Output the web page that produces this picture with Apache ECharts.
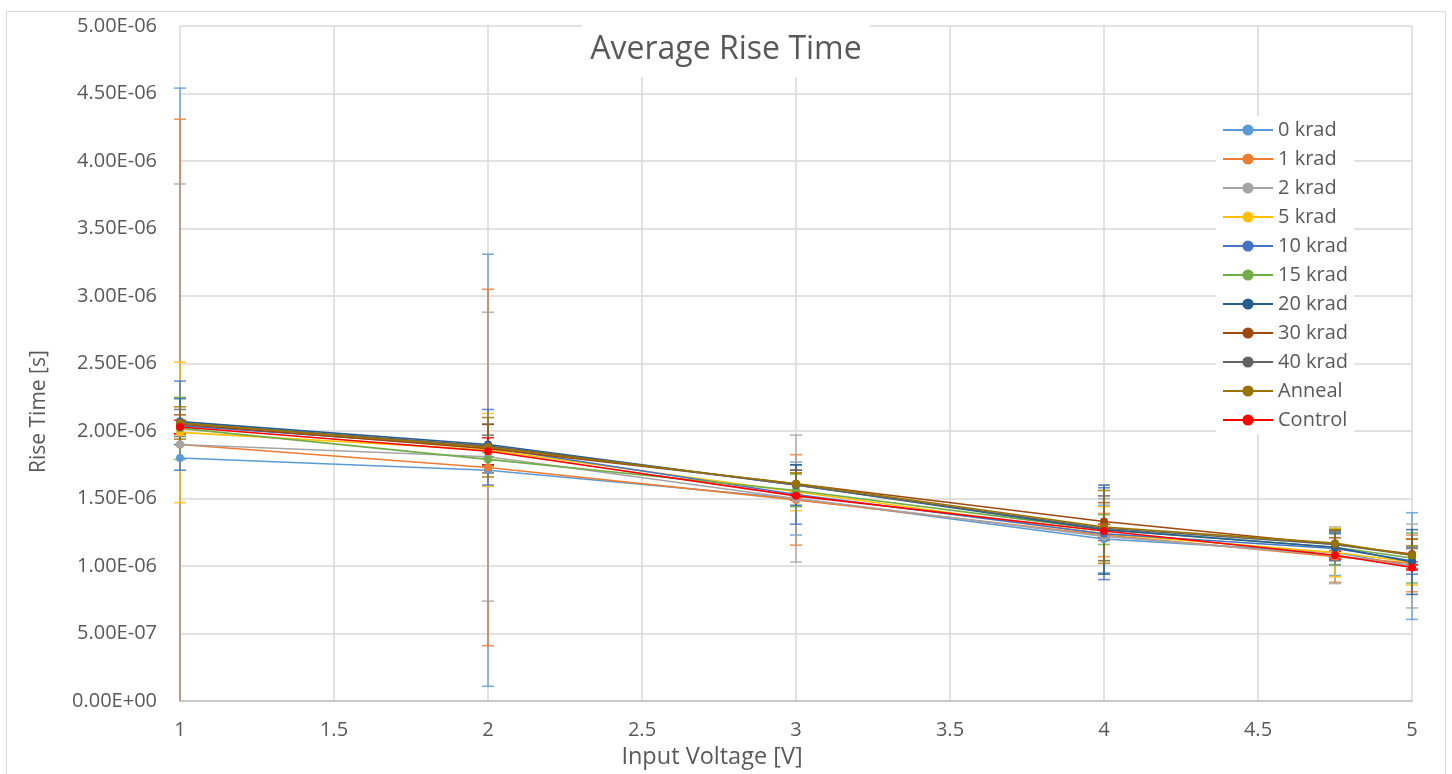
<!DOCTYPE html>
<html>
<head>
<meta charset="utf-8">
<script src="https://cdn.jsdelivr.net/npm/echarts@6/dist/echarts.min.js"></script>
<style>
html,body{margin:0;padding:0;background:#fff;}
#c{width:1452px;height:774px;}
</style>
</head>
<body>
<div id="c"></div>
<script>
// Input voltages (x)
const voltages = [1, 2, 3, 4, 4.75, 5];
const seriesNames = ['0 krad','1 krad','2 krad','5 krad','10 krad','15 krad','20 krad','30 krad','40 krad','Anneal','Control'];
const seriesColors = ['#5B9BD5','#ED7D31','#A5A5A5','#FFC000','#4472C4','#70AD47','#255E91','#9E480E','#636363','#997300','#FF0000'];

// Average rise time [s]
const rise0   = [1.80e-6, 1.71e-6, 1.50e-6, 1.20e-6, 1.10e-6, 1.00e-6];
const rise1   = [1.90e-6, 1.73e-6, 1.49e-6, 1.23e-6, 1.07e-6, 1.02e-6];
const rise2   = [1.90e-6, 1.81e-6, 1.50e-6, 1.22e-6, 1.08e-6, 1.00e-6];
const rise5   = [1.99e-6, 1.86e-6, 1.55e-6, 1.24e-6, 1.10e-6, 1.03e-6];
const rise10  = [2.04e-6, 1.88e-6, 1.53e-6, 1.24e-6, 1.13e-6, 1.04e-6];
const rise15  = [2.02e-6, 1.79e-6, 1.56e-6, 1.27e-6, 1.14e-6, 1.06e-6];
const rise20  = [2.07e-6, 1.90e-6, 1.60e-6, 1.27e-6, 1.14e-6, 1.03e-6];
const rise30  = [2.05e-6, 1.87e-6, 1.61e-6, 1.33e-6, 1.16e-6, 1.09e-6];
const rise40  = [2.06e-6, 1.89e-6, 1.60e-6, 1.28e-6, 1.16e-6, 1.08e-6];
const riseAnn = [2.06e-6, 1.88e-6, 1.61e-6, 1.29e-6, 1.17e-6, 1.08e-6];
const riseCtl = [2.03e-6, 1.85e-6, 1.52e-6, 1.26e-6, 1.08e-6, 0.99e-6];

// Error bar half-widths (+/-) [s]
const err0   = [2.74e-6, 1.60e-6, 0.27e-6, 0.25e-6, 0.17e-6, 0.395e-6];
const err1   = [2.41e-6, 1.32e-6, 0.335e-6, 0.16e-6, 0.19e-6, 0.21e-6];
const err2   = [1.93e-6, 1.07e-6, 0.47e-6, 0.28e-6, 0.21e-6, 0.31e-6];
const err5   = [0.52e-6, 0.27e-6, 0.14e-6, 0.20e-6, 0.18e-6, 0.17e-6];
const err10  = [0.33e-6, 0.28e-6, 0.22e-6, 0.34e-6, 0.12e-6, 0.10e-6];
const err15  = [0.23e-6, 0.05e-6, 0.12e-6, 0.11e-6, 0.13e-6, 0.185e-6];
const err20  = [0.17e-6, 0.15e-6, 0.15e-6, 0.33e-6, 0.10e-6, 0.24e-6];
const err30  = [0.07e-6, 0.18e-6, 0.10e-6, 0.14e-6, 0.05e-6, 0.11e-6];
const err40  = [0.10e-6, 0.08e-6, 0.11e-6, 0.24e-6, 0.10e-6, 0.05e-6];
const errAnn = [0.12e-6, 0.22e-6, 0.08e-6, 0.27e-6, 0.10e-6, 0.07e-6];
const errCtl = [0.05e-6, 0.10e-6, 0.03e-6, 0.05e-6, 0.03e-6, 0.02e-6];

const allRise = [rise0, rise1, rise2, rise5, rise10, rise15, rise20, rise30, rise40, riseAnn, riseCtl];
const allErr  = [err0, err1, err2, err5, err10, err15, err20, err30, err40, errAnn, errCtl];

const FONT = '"Open Sans", "Noto Sans", sans-serif';
const TXT = '#595959';

function fmtExp(v) {
  if (Math.abs(v) < 1e-12) return '0.00E+00';
  const s = v.toExponential(2);
  const parts = s.split('e');
  const sign = parts[1][0] === '-' ? '-' : '+';
  let d = parts[1].replace(/[+-]/, '');
  if (d.length < 2) d = '0' + d;
  return parts[0] + 'E' + sign + d;
}

const series = [];
// error bars first (behind lines)
seriesNames.forEach((name, i) => {
  series.push({
    type: 'custom',
    name: name + ' err',
    z: 2,
    clip: false,
    data: voltages.map((x, k) => [x, allRise[i][k], allErr[i][k]]),
    renderItem: function (params, api) {
      const x = api.value(0), y = api.value(1), e = api.value(2);
      const top = api.coord([x, y + e]);
      const bot = api.coord([x, Math.max(0, y - e)]);
      const botRaw = api.coord([x, y - e]);
      const hw = 6;
      const style = { stroke: seriesColors[i], lineWidth: 1.6, opacity: 0.8 };
      const children = [
        { type: 'line', shape: { x1: top[0], y1: top[1], x2: bot[0], y2: bot[1] }, style: style },
        { type: 'line', shape: { x1: top[0] - hw, y1: top[1], x2: top[0] + hw, y2: top[1] }, style: style }
      ];
      if (y - e >= 0) {
        children.push({ type: 'line', shape: { x1: botRaw[0] - hw, y1: botRaw[1], x2: botRaw[0] + hw, y2: botRaw[1] }, style: style });
      }
      return { type: 'group', children: children };
    }
  });
});
seriesNames.forEach((name, i) => {
  series.push({
    type: 'line',
    name: name,
    z: 3,
    data: voltages.map((x, k) => [x, allRise[i][k]]),
    symbol: 'circle',
    symbolSize: 8,
    lineStyle: { color: seriesColors[i], width: 1.6 },
    itemStyle: { color: seriesColors[i] },
    emphasis: { disabled: true },
    animation: false
  });
});

const chart = echarts.init(document.getElementById('c'));
chart.setOption({
  animation: false,
  backgroundColor: '#fff',
  textStyle: { fontFamily: FONT },
  graphic: [{
    type: 'rect', z: 0, silent: true,
    shape: { x: 6.5, y: 11.5, width: 1439, height: 780 },
    style: { fill: null, stroke: '#d9d9d9', lineWidth: 1 }
  }],
  title: {
    text: 'Average Rise Time',
    left: 'center',
    top: 23,
    padding: [5, 8],
    backgroundColor: '#fff',
    z: 10,
    textStyle: { fontFamily: FONT, fontSize: 32, fontWeight: 'normal', color: TXT, lineHeight: 44 }
  },
  legend: {
    orient: 'vertical',
    left: 1216,
    top: 116,
    padding: [4, 6],
    backgroundColor: '#fff',
    z: 10,
    data: seriesNames,
    itemWidth: 50,
    itemHeight: 14,
    itemGap: 9,
    textStyle: { fontFamily: FONT, fontSize: 20, color: TXT, lineHeight: 20 }
  },
  grid: { left: 180, right: 40, top: 26, bottom: 71, containLabel: false },
  xAxis: {
    type: 'value',
    min: 1, max: 5, interval: 0.5,
    name: 'Input Voltage [V]',
    nameLocation: 'middle',
    nameGap: 43,
    nameTextStyle: { fontFamily: FONT, fontSize: 23.5, color: TXT, padding: [0, 168, 0, 0] },
    axisLine: { show: true, lineStyle: { color: '#bfbfbf', width: 1.5 } },
    axisTick: { show: false },
    axisLabel: { fontFamily: FONT, fontSize: 20, color: TXT, margin: 19 },
    splitLine: { show: true, lineStyle: { color: '#d9d9d9', width: 1.5 } }
  },
  yAxis: {
    type: 'value',
    min: 0, max: 5e-6, interval: 5e-7,
    name: 'Rise Time [s]',
    nameLocation: 'middle',
    nameGap: 130,
    nameRotate: 90,
    nameTextStyle: { fontFamily: FONT, fontSize: 21, color: TXT, padding: [0, 96, 0, 0] },
    axisLine: { show: false },
    axisTick: { show: false },
    axisLabel: { fontFamily: FONT, fontSize: 20, color: TXT, margin: 23, formatter: fmtExp },
    splitLine: { show: true, lineStyle: { color: '#d9d9d9', width: 1.5 } }
  },
  series: series
});
</script>
</body>
</html>
